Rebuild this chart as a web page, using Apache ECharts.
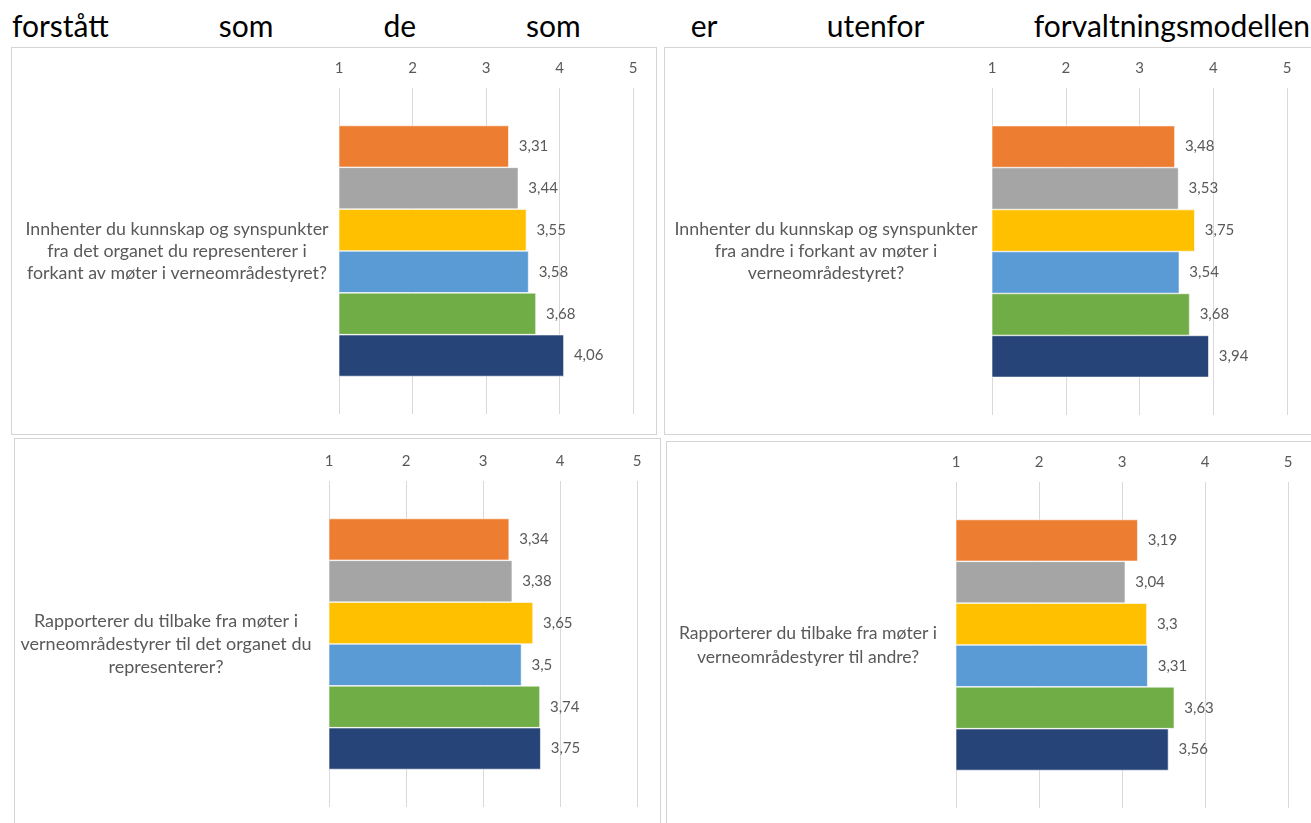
<!DOCTYPE html>
<html><head><meta charset="utf-8">
<script src="https://cdn.jsdelivr.net/npm/echarts/dist/echarts.min.js"></script>
<style>
html,body{margin:0;padding:0;background:#fff;overflow:hidden;width:1311px;height:823px;position:relative;font-family:Lato,sans-serif}
.panel{position:absolute;border:1.5px solid #d4d4d4;box-sizing:border-box;background:#fff}
#title{position:absolute;left:12px;top:7px;width:1298px;font-size:30px;line-height:36px;color:#000;text-align:justify;text-align-last:justify}
</style>
</head><body>
<div id="title">forstått som de som er utenfor forvaltningsmodellen</div>
<div class="panel" id="p1" style="left:11px;top:47px;width:646px;height:388px"></div>
<div class="panel" id="p2" style="left:664px;top:47px;width:660px;height:388px"></div>
<div class="panel" id="p3" style="left:14px;top:438px;width:647px;height:400px"></div>
<div class="panel" id="p4" style="left:666px;top:441px;width:660px;height:400px"></div>
<script>
const tickLabels = ['1', '2', '3', '4', '5'];
const seriesColors = ['#ED7D31', '#A5A5A5', '#FFC000', '#5B9BD5', '#70AD47', '#264478'];
const seriesNames = ['Gruppe 1', 'Gruppe 2', 'Gruppe 3', 'Gruppe 4', 'Gruppe 5', 'Gruppe 6'];
const questions = [
  'Innhenter du kunnskap og synspunkter\nfra det organet du representerer i\nforkant av møter i verneområdestyret?',
  'Innhenter du kunnskap og synspunkter\nfra andre i forkant av møter i\nverneområdestyret?',
  'Rapporterer du tilbake fra møter i\nverneområdestyrer til det organet du\nrepresenterer?',
  'Rapporterer du tilbake fra møter i\nverneområdestyrer til andre?'
];
const values1 = [3.31, 3.44, 3.55, 3.58, 3.68, 4.06];
const values2 = [3.48, 3.53, 3.75, 3.54, 3.68, 3.94];
const values3 = [3.34, 3.38, 3.65, 3.5, 3.74, 3.75];
const values4 = [3.19, 3.04, 3.3, 3.31, 3.63, 3.56];
const allValues = [values1, values2, values3, values4];

const layouts = [
  {id: 'p1', grid: {left: 327, top: 40, width: 294, height: 326}, qMargin: 162, qSize: 17.8, qLine: 22},
  {id: 'p2', grid: {left: 327, top: 40, width: 295, height: 327}, qMargin: 166, qSize: 17.8, qLine: 22},
  {id: 'p3', grid: {left: 314, top: 42, width: 308, height: 326}, qMargin: 163, qSize: 18, qLine: 23},
  {id: 'p4', grid: {left: 289, top: 40, width: 332, height: 326}, qMargin: 148, qSize: 17.6, qLine: 24}
];
const FONT = 'Lato, sans-serif';

layouts.forEach((L, k) => {
  const chart = echarts.init(document.getElementById(L.id), null, {renderer: 'canvas'});
  chart.setOption({
    animation: false,
    grid: L.grid,
    xAxis: {
      type: 'value', position: 'top', min: 1, max: 5, interval: 1,
      axisLine: {show: false}, axisTick: {show: false},
      splitLine: {show: true, lineStyle: {color: '#d9d9d9', width: 1}},
      axisLabel: {color: '#595959', fontSize: 15, fontFamily: FONT, margin: 12,
        formatter: v => tickLabels[Math.round(v) - 1]}
    },
    yAxis: {
      type: 'category', inverse: true, data: [questions[k]],
      axisLine: {show: false}, axisTick: {show: false},
      axisLabel: {color: '#595959', fontSize: L.qSize, lineHeight: L.qLine, fontFamily: FONT,
        align: 'center', margin: L.qMargin}
    },
    series: allValues[k].map((v, i) => ({
      type: 'bar', name: seriesNames[i], data: [v],
      barGap: '0%', barCategoryGap: '23%',
      itemStyle: {color: seriesColors[i], borderColor: '#ffffff', borderWidth: 0.6},
      label: {show: true, position: 'right', distance: 10, color: '#595959', fontSize: 15, fontFamily: FONT,
        formatter: p => String(p.value).replace('.', ',')}
    }))
  });
});
</script>
</body></html>
